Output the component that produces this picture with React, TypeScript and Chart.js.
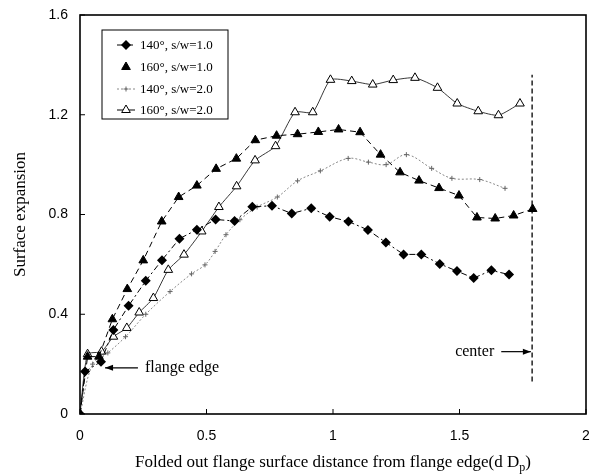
import React, { useEffect, useRef } from "react";
import { Chart, registerables } from "chart.js";
Chart.register(...registerables);

// ---- data ----
const legendLabels = ["140°, s/w=1.0", "160°, s/w=1.0", "140°, s/w=2.0", "160°, s/w=2.0"];
const xTickValues = [0, 0.5, 1, 1.5, 2];
const yTickValues = [0, 0.4, 0.8, 1.2, 1.6];

const s140w1: number[][] = [
  [0, 0], [0.02, 0.17], [0.083, 0.21], [0.132, 0.337], [0.192, 0.434], [0.26, 0.534],
  [0.324, 0.617], [0.393, 0.703], [0.462, 0.739], [0.536, 0.78], [0.611, 0.774],
  [0.681, 0.831], [0.759, 0.835], [0.837, 0.804], [0.914, 0.825], [0.987, 0.791],
  [1.061, 0.772], [1.138, 0.738], [1.209, 0.688], [1.279, 0.64], [1.349, 0.64],
  [1.422, 0.602], [1.49, 0.573], [1.556, 0.545], [1.626, 0.576], [1.696, 0.559],
];
const s160w1: number[][] = [
  [0, 0], [0.03, 0.23], [0.075, 0.23], [0.128, 0.38], [0.187, 0.501], [0.25, 0.616],
  [0.323, 0.772], [0.39, 0.87], [0.462, 0.916], [0.538, 0.983], [0.618, 1.024],
  [0.693, 1.098], [0.777, 1.116], [0.86, 1.122], [0.942, 1.131], [1.022, 1.141],
  [1.107, 1.13], [1.188, 1.04], [1.265, 0.969], [1.34, 0.936], [1.419, 0.906],
  [1.498, 0.876], [1.569, 0.788], [1.641, 0.784], [1.714, 0.796], [1.789, 0.822],
];
const s140w2: number[][] = [
  [0, 0], [0.05, 0.2], [0.11, 0.245], [0.18, 0.31], [0.26, 0.4], [0.356, 0.491],
  [0.441, 0.562], [0.494, 0.598], [0.534, 0.652], [0.577, 0.719], [0.632, 0.779],
  [0.7, 0.83], [0.78, 0.87], [0.86, 0.935], [0.95, 0.975], [1.06, 1.025],
  [1.14, 1.01], [1.21, 1.0], [1.29, 1.04], [1.39, 0.985], [1.47, 0.945],
  [1.58, 0.94], [1.68, 0.905],
];
const s160w2: number[][] = [
  [0, 0], [0.03, 0.24], [0.085, 0.25], [0.132, 0.31], [0.185, 0.345], [0.234, 0.407],
  [0.29, 0.465], [0.349, 0.578], [0.411, 0.639], [0.481, 0.732], [0.549, 0.83],
  [0.619, 0.913], [0.692, 1.017], [0.773, 1.074], [0.85, 1.21], [0.92, 1.21],
  [0.99, 1.34], [1.074, 1.335], [1.157, 1.321], [1.238, 1.339], [1.324, 1.348],
  [1.413, 1.308], [1.491, 1.245], [1.574, 1.214], [1.654, 1.198], [1.739, 1.245],
];
const centerLine: number[][] = [[1.787, 0.13], [1.787, 1.36]];
// annotation anchors (data units)
const flangeArrow = { x0: 0.229, x1: 0.099, y: 0.185 };
const centerArrow = { x0: 1.665, x1: 1.782, y: 0.25 };

const SERIF = "'Liberation Serif', 'Times New Roman', serif";
const SANS = "'Liberation Sans', Arial, sans-serif";

const fmtTick = (v: any) => String(Number(Number(v).toFixed(2)));

function drawMarker(ctx: CanvasRenderingContext2D, kind: string, x: number, y: number) {
  ctx.save();
  ctx.setLineDash([]);
  ctx.lineWidth = 1;
  ctx.strokeStyle = "#000";
  if (kind === "diamond") {
    ctx.beginPath();
    ctx.moveTo(x, y - 5); ctx.lineTo(x + 5, y); ctx.lineTo(x, y + 5); ctx.lineTo(x - 5, y);
    ctx.closePath(); ctx.fillStyle = "#000"; ctx.fill();
  } else if (kind === "tri" || kind === "otri") {
    const r = 5;
    ctx.beginPath();
    ctx.moveTo(x, y - r);
    ctx.lineTo(x + r * 0.866, y + r * 0.5);
    ctx.lineTo(x - r * 0.866, y + r * 0.5);
    ctx.closePath();
    ctx.fillStyle = kind === "tri" ? "#000" : "#fff";
    ctx.fill(); ctx.stroke();
  } else {
    ctx.strokeStyle = "#666";
    ctx.beginPath();
    ctx.moveTo(x - 2.5, y); ctx.lineTo(x + 2.5, y);
    ctx.moveTo(x, y - 2.5); ctx.lineTo(x, y + 2.5);
    ctx.stroke();
  }
  ctx.restore();
}

function arrow(ctx: CanvasRenderingContext2D, x0: number, y0: number, x1: number, y1: number) {
  ctx.save();
  ctx.setLineDash([]);
  ctx.strokeStyle = "#000";
  ctx.fillStyle = "#000";
  ctx.lineWidth = 1.2;
  ctx.beginPath(); ctx.moveTo(x0, y0); ctx.lineTo(x1, y1); ctx.stroke();
  const dir = Math.sign(x1 - x0);
  ctx.beginPath();
  ctx.moveTo(x1, y1);
  ctx.lineTo(x1 - dir * 8, y1 - 3);
  ctx.lineTo(x1 - dir * 8, y1 + 3);
  ctx.closePath(); ctx.fill();
  ctx.restore();
}

const overlay = {
  id: "overlay",
  afterDatasetsDraw(chart: any) {
    const { ctx, chartArea: a, scales } = chart;
    const xs = scales.x, ys = scales.y;
    ctx.save();
    ctx.setLineDash([]);
    ctx.strokeStyle = "#000";
    // plot box
    ctx.lineWidth = 1.6;
    ctx.strokeRect(a.left, a.top, a.right - a.left, a.bottom - a.top);
    // inward ticks
    ctx.lineWidth = 1;
    ctx.beginPath();
    xTickValues.forEach((v) => {
      const p = xs.getPixelForValue(v);
      ctx.moveTo(p, a.bottom); ctx.lineTo(p, a.bottom - 5);
    });
    yTickValues.forEach((v) => {
      const p = ys.getPixelForValue(v);
      ctx.moveTo(a.left, p); ctx.lineTo(a.left + 5, p);
    });
    ctx.stroke();

    // legend
    const lx = 102, ly = 30, lw = 126, lh = 89;
    ctx.fillStyle = "#fff";
    ctx.fillRect(lx, ly, lw, lh);
    ctx.lineWidth = 1;
    ctx.strokeRect(lx, ly, lw, lh);
    const rows = [45, 67, 89, 110];
    const kinds = ["diamond", "tri", "cross", "otri"];
    const dashes = [[5, 2, 2, 2], [], [2, 2], []];
    const colors = ["#000", "#000", "#888", "#000"];
    rows.forEach((ry, i) => {
      if (i !== 1) {
        ctx.save();
        ctx.strokeStyle = colors[i];
        ctx.setLineDash(dashes[i]);
        ctx.beginPath(); ctx.moveTo(117, ry); ctx.lineTo(135, ry); ctx.stroke();
        ctx.restore();
      }
      drawMarker(ctx, kinds[i], 126, ry);
      ctx.fillStyle = "#000";
      ctx.font = `13px ${SERIF}`;
      ctx.textAlign = "left";
      ctx.textBaseline = "middle";
      ctx.fillText(legendLabels[i], 140, ry + 1);
    });

    // flange edge annotation
    const fy = ys.getPixelForValue(flangeArrow.y);
    arrow(ctx, xs.getPixelForValue(flangeArrow.x0), fy, xs.getPixelForValue(flangeArrow.x1), fy);
    ctx.fillStyle = "#000";
    ctx.font = `16px ${SERIF}`;
    ctx.textAlign = "left";
    ctx.textBaseline = "middle";
    ctx.fillText("flange edge", xs.getPixelForValue(flangeArrow.x0) + 7, fy);

    // center annotation
    const cy = ys.getPixelForValue(centerArrow.y);
    const cx0 = xs.getPixelForValue(centerArrow.x0);
    arrow(ctx, cx0, cy, xs.getPixelForValue(centerArrow.x1), cy);
    ctx.textAlign = "right";
    ctx.fillText("center", cx0 - 7, cy);
    ctx.restore();
  },
  afterDraw(chart: any) {
    const { ctx, chartArea: a } = chart;
    ctx.save();
    ctx.fillStyle = "#000";
    // y title
    ctx.font = `17px ${SERIF}`;
    ctx.textAlign = "center";
    ctx.textBaseline = "middle";
    ctx.translate(21, (a.top + a.bottom) / 2);
    ctx.rotate(-Math.PI / 2);
    ctx.fillText("Surface expansion", 0, 0);
    ctx.restore();

    // x title with subscript
    ctx.save();
    ctx.fillStyle = "#000";
    ctx.textBaseline = "middle";
    ctx.textAlign = "left";
    const main = "Folded out flange surface distance from flange edge(d D";
    const sub = "p";
    const tail = ")";
    ctx.font = `17px ${SERIF}`;
    const w1 = ctx.measureText(main).width;
    const w3 = ctx.measureText(tail).width;
    ctx.font = `12px ${SERIF}`;
    const w2 = ctx.measureText(sub).width;
    const total = w1 + w2 + w3;
    const cx = (a.left + a.right) / 2;
    const ty = 463;
    let x = cx - total / 2;
    ctx.font = `17px ${SERIF}`;
    ctx.fillText(main, x, ty);
    x += w1;
    ctx.font = `12px ${SERIF}`;
    ctx.fillText(sub, x, ty + 5);
    x += w2;
    ctx.font = `17px ${SERIF}`;
    ctx.fillText(tail, x, ty);
    ctx.restore();
  },
};

const toPts = (arr: number[][]) => arr.map(([x, y]) => ({ x, y }));

export default function App() {
  const ref = useRef<HTMLCanvasElement>(null);
  useEffect(() => {
    document.body.style.margin = "0";
    if (!ref.current) return;
    const chart = new Chart(ref.current, {
      type: "scatter",
      data: {
        datasets: [
          {
            label: legendLabels[0],
            data: toPts(s140w1),
            showLine: true,
            borderColor: "#000",
            borderWidth: 1,
            borderDash: [6, 3, 2, 3],
            pointStyle: "rectRot",
            pointRadius: 5,
            pointBackgroundColor: "#000",
            pointBorderColor: "#000",
            pointBorderWidth: 0,
          },
          {
            label: legendLabels[1],
            data: toPts(s160w1),
            showLine: true,
            borderColor: "#000",
            borderWidth: 1,
            borderDash: [6, 4],
            pointStyle: "triangle",
            pointRadius: 5,
            pointBackgroundColor: "#000",
            pointBorderColor: "#000",
            pointBorderWidth: 1,
          },
          {
            label: legendLabels[2],
            data: toPts(s140w2),
            showLine: true,
            borderColor: "#888",
            borderWidth: 1,
            borderDash: [2, 2],
            tension: 0.35,
            pointStyle: "cross",
            pointRadius: 2.5,
            pointBorderColor: "#666",
            pointBorderWidth: 1,
          },
          {
            label: legendLabels[3],
            data: toPts(s160w2),
            showLine: true,
            borderColor: "#222",
            borderWidth: 0.9,
            tension: 0.2,
            pointStyle: "triangle",
            pointRadius: 5,
            pointBackgroundColor: "#fff",
            pointBorderColor: "#000",
            pointBorderWidth: 1,
          },
          {
            label: "center",
            data: toPts(centerLine),
            showLine: true,
            borderColor: "#000",
            borderWidth: 1.3,
            borderDash: [5, 3],
            pointRadius: 0,
          },
        ],
      },
      options: {
        animation: false,
        responsive: false,
        layout: { padding: { left: 0, right: 12, top: 15, bottom: 0 } },
        plugins: { legend: { display: false }, tooltip: { enabled: false } },
        scales: {
          x: {
            type: "linear",
            min: 0,
            max: 2,
            ticks: { stepSize: 0.5, color: "#000", font: { family: SANS, size: 14 }, padding: 14, callback: fmtTick },
            grid: { display: false, drawTicks: false },
            border: { display: false },
            afterFit: (s: any) => { s.height = 62; s.paddingLeft = 0; s.paddingRight = 0; },
          },
          y: {
            type: "linear",
            min: 0,
            max: 1.6,
            ticks: { stepSize: 0.4, color: "#000", font: { family: SANS, size: 14 }, padding: 12, callback: fmtTick },
            grid: { display: false, drawTicks: false },
            border: { display: false },
            afterFit: (s: any) => { s.width = 80; s.paddingTop = 0; s.paddingBottom = 0; },
          },
        },
      },
      plugins: [overlay],
    } as any);
    return () => chart.destroy();
  }, []);
  return <canvas ref={ref} width={598} height={476} style={{ display: "block" }} />;
}
